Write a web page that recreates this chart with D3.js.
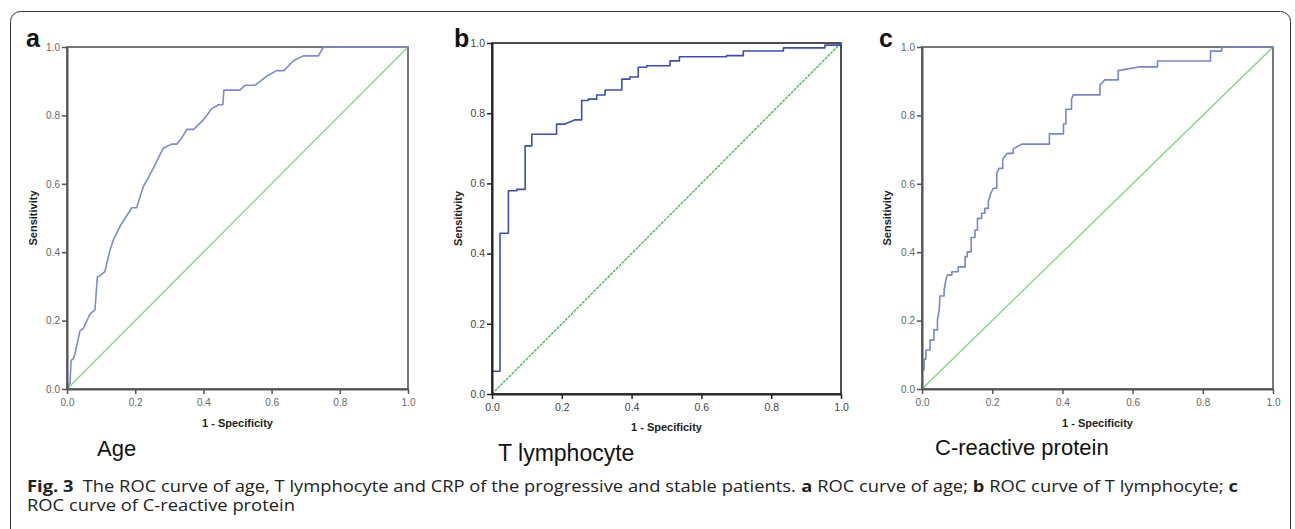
<!DOCTYPE html>
<html><head><meta charset="utf-8">
<script src="https://cdn.jsdelivr.net/npm/d3@7"></script>
<style>body{margin:0;background:#fff}svg{display:block}</style>
</head><body>
<svg id="fig" width="1295" height="529"></svg>
<script>
// ---- data ----
const ticks = [0, 0.2, 0.4, 0.6, 0.8, 1.0];
const tickLabels = ["0.0", "0.2", "0.4", "0.6", "0.8", "1.0"];
const diagonal = [[0, 0], [1, 1]];
const ageROC = [[0,0],[0.005,0.012],[0.009,0.017],[0.012,0.083],[0.019,0.09],[0.023,0.101],[0.038,0.17],[0.048,0.177],[0.067,0.219],[0.082,0.231],[0.089,0.328],[0.095,0.33],[0.111,0.343],[0.126,0.406],[0.136,0.436],[0.155,0.475],[0.19,0.53],[0.204,0.53],[0.224,0.592],[0.253,0.645],[0.282,0.704],[0.307,0.716],[0.322,0.716],[0.336,0.733],[0.351,0.759],[0.371,0.759],[0.4,0.787],[0.424,0.819],[0.444,0.831],[0.457,0.831],[0.46,0.874],[0.507,0.874],[0.522,0.888],[0.551,0.888],[0.586,0.915],[0.615,0.931],[0.636,0.931],[0.664,0.96],[0.693,0.974],[0.737,0.974],[0.752,1.0],[1,1]];
const tLymphROC = [[0,0],[0,0.065],[0.023,0.065],[0.023,0.458],[0.047,0.458],[0.047,0.579],[0.071,0.579],[0.071,0.583],[0.095,0.583],[0.095,0.707],[0.114,0.707],[0.114,0.74],[0.185,0.74],[0.185,0.769],[0.209,0.769],[0.223,0.775],[0.237,0.781],[0.257,0.781],[0.257,0.836],[0.276,0.836],[0.276,0.84],[0.3,0.84],[0.3,0.852],[0.324,0.852],[0.324,0.866],[0.372,0.866],[0.372,0.897],[0.395,0.897],[0.395,0.903],[0.419,0.903],[0.419,0.931],[0.443,0.931],[0.443,0.935],[0.51,0.935],[0.51,0.949],[0.537,0.949],[0.537,0.961],[0.672,0.961],[0.672,0.964],[0.72,0.964],[0.72,0.977],[0.835,0.977],[0.835,0.986],[0.954,0.986],[0.954,0.994],[0.997,0.994],[1,1]];
const crpROC = [[0,0],[0,0.056],[0.006,0.056],[0.006,0.087],[0.011,0.087],[0.011,0.114],[0.023,0.114],[0.023,0.143],[0.034,0.143],[0.034,0.173],[0.044,0.173],[0.044,0.202],[0.049,0.231],[0.051,0.272],[0.063,0.272],[0.063,0.289],[0.068,0.319],[0.072,0.333],[0.085,0.333],[0.085,0.343],[0.103,0.343],[0.103,0.357],[0.123,0.357],[0.123,0.387],[0.129,0.387],[0.129,0.401],[0.14,0.401],[0.14,0.443],[0.151,0.443],[0.151,0.465],[0.158,0.465],[0.158,0.499],[0.17,0.499],[0.17,0.514],[0.179,0.514],[0.179,0.528],[0.189,0.528],[0.189,0.548],[0.196,0.572],[0.203,0.587],[0.213,0.587],[0.213,0.631],[0.22,0.645],[0.23,0.645],[0.23,0.672],[0.243,0.689],[0.26,0.689],[0.26,0.702],[0.284,0.716],[0.363,0.716],[0.363,0.746],[0.403,0.746],[0.403,0.775],[0.41,0.775],[0.41,0.818],[0.426,0.818],[0.426,0.847],[0.431,0.86],[0.507,0.86],[0.507,0.889],[0.521,0.904],[0.559,0.904],[0.559,0.931],[0.621,0.942],[0.671,0.942],[0.671,0.959],[0.822,0.959],[0.822,0.988],[0.854,0.988],[0.854,1.0],[1,1]];
const panelLetters = ["a", "b", "c"];
const panelTitles = ["Age", "T lymphocyte", "C-reactive protein"];
const xTitle = "1 - Specificity";
const yTitle = "Sensitivity";
const captionLine1 = [
  ["Fig. 3", true], ["\u2002The ROC curve of age, T lymphocyte and CRP of the progressive and stable patients. ", false],
  ["a", true], [" ROC curve of age; ", false], ["b", true], [" ROC curve of T lymphocyte; ", false], ["c", true]
];
const captionLine2 = "ROC curve of C-reactive protein";

const svg = d3.select("#fig");
svg.append("rect").attr("x", 10.5).attr("y", 11.5).attr("width", 1280).attr("height", 560)
  .attr("rx", 10).attr("fill", "none").attr("stroke", "#333").attr("stroke-width", 1);

const panels = [
  {data: ageROC, x0: 67, x1: 408, y0: 389, y1: 47, curve: "#7f8bcf", diag: "#7fd67f", axis: "#555", tickCol: "#666", tickFs: 10, axW: 2,
   letterX: 26, titleX: 97, titleY: 456, titleFs: 22, xtY: 427, ytX: 37, dash: null},
  {data: tLymphROC, x0: 492, x1: 841, y0: 394, y1: 43, curve: "#3d4fa9", diag: "#3fb54a", axis: "#222", tickCol: "#444", tickFs: 10.5, axW: 2,
   letterX: 454, titleX: 498, titleY: 461, titleFs: 23, xtY: 431, ytX: 462, dash: "3,1"},
  {data: crpROC, x0: 922, x1: 1273, y0: 389, y1: 47, curve: "#7a86c9", diag: "#7fd67f", axis: "#555", tickCol: "#666", tickFs: 10, axW: 2,
   letterX: 879, titleX: 935, titleY: 455, titleFs: 22, xtY: 427, ytX: 891, dash: null}
];

panels.forEach((p, i) => {
  const x = d3.scaleLinear().domain([0, 1]).range([p.x0, p.x1]);
  const y = d3.scaleLinear().domain([0, 1]).range([p.y0, p.y1]);
  const g = svg.append("g");
  g.append("rect").attr("x", p.x0).attr("y", p.y1).attr("width", p.x1 - p.x0).attr("height", p.y0 - p.y1)
    .attr("fill", "none").attr("stroke", p.axis).attr("stroke-width", 1.6);
  const line = d3.line().x(d => x(d[0])).y(d => y(d[1]));
  g.append("path").datum(diagonal).attr("d", line).attr("fill", "none").attr("stroke", p.diag)
    .attr("stroke-width", 1.3).attr("stroke-dasharray", p.dash);
  g.append("path").datum(p.data).attr("d", line).attr("fill", "none").attr("stroke", p.curve)
    .attr("stroke-width", 1.6).attr("stroke-linejoin", "round");
  const xa = d3.axisBottom(x).tickValues(ticks).tickFormat((d, k) => tickLabels[k]).tickSize(5).tickSizeOuter(0);
  const ya = d3.axisLeft(y).tickValues(ticks).tickFormat((d, k) => tickLabels[k]).tickSize(5).tickSizeOuter(0);
  const gx = g.append("g").attr("transform", `translate(0,${p.y0})`).call(xa);
  const gy = g.append("g").attr("transform", `translate(${p.x0},0)`).call(ya);
  [gx, gy].forEach(ax => {
    ax.select(".domain").attr("stroke", p.axis).attr("stroke-width", p.axW);
    ax.selectAll(".tick line").attr("stroke", p.axis).attr("stroke-width", 1.5);
    ax.selectAll(".tick text").attr("fill", p.tickCol).attr("font-family", "Liberation Sans, Arial, sans-serif")
      .attr("font-size", p.tickFs);
  });
  gx.selectAll(".tick text").attr("dy", "0.9em");
  gy.selectAll(".tick text").attr("dx", "1px");
  g.append("text").attr("x", (p.x0 + p.x1) / 2).attr("y", p.xtY).attr("text-anchor", "middle")
    .attr("font-family", "Liberation Sans, Arial, sans-serif").attr("font-weight", "bold").attr("font-size", 11)
    .attr("fill", "#222").text(xTitle);
  g.append("text").attr("transform", `translate(${p.ytX},${(p.y0 + p.y1) / 2}) rotate(-90)`).attr("text-anchor", "middle")
    .attr("font-family", "Liberation Sans, Arial, sans-serif").attr("font-weight", "bold").attr("font-size", 11)
    .attr("fill", "#222").text(yTitle);
  g.append("text").attr("x", p.letterX).attr("y", 47).attr("font-family", "Liberation Sans, Arial, sans-serif")
    .attr("font-weight", "bold").attr("font-size", 25).attr("fill", "#111").text(panelLetters[i]);
  g.append("text").attr("x", p.titleX).attr("y", p.titleY).attr("font-family", "Liberation Sans, Arial, sans-serif")
    .attr("font-size", p.titleFs).attr("fill", "#111").text(panelTitles[i]);
});

function captionLine(segments, yPos, targetW) {
  const g = svg.append("g");
  let cx = 0;
  segments.forEach(([txt, bold]) => {
    const t = g.append("text").attr("x", cx).attr("y", 0).attr("font-family", "Open Sans, sans-serif")
      .attr("font-size", 15.5).attr("fill", "#222").attr("font-weight", bold ? "bold" : "normal")
      .attr("xml:space", "preserve").style("white-space", "pre").text(txt);
    cx += t.node().getComputedTextLength();
  });
  const sx = targetW / cx;
  g.attr("transform", `translate(27,${yPos}) scale(${sx},1)`);
}
captionLine(captionLine1, 492, 1211);
captionLine([[captionLine2, false]], 511, 268);
</script>
</body></html>
